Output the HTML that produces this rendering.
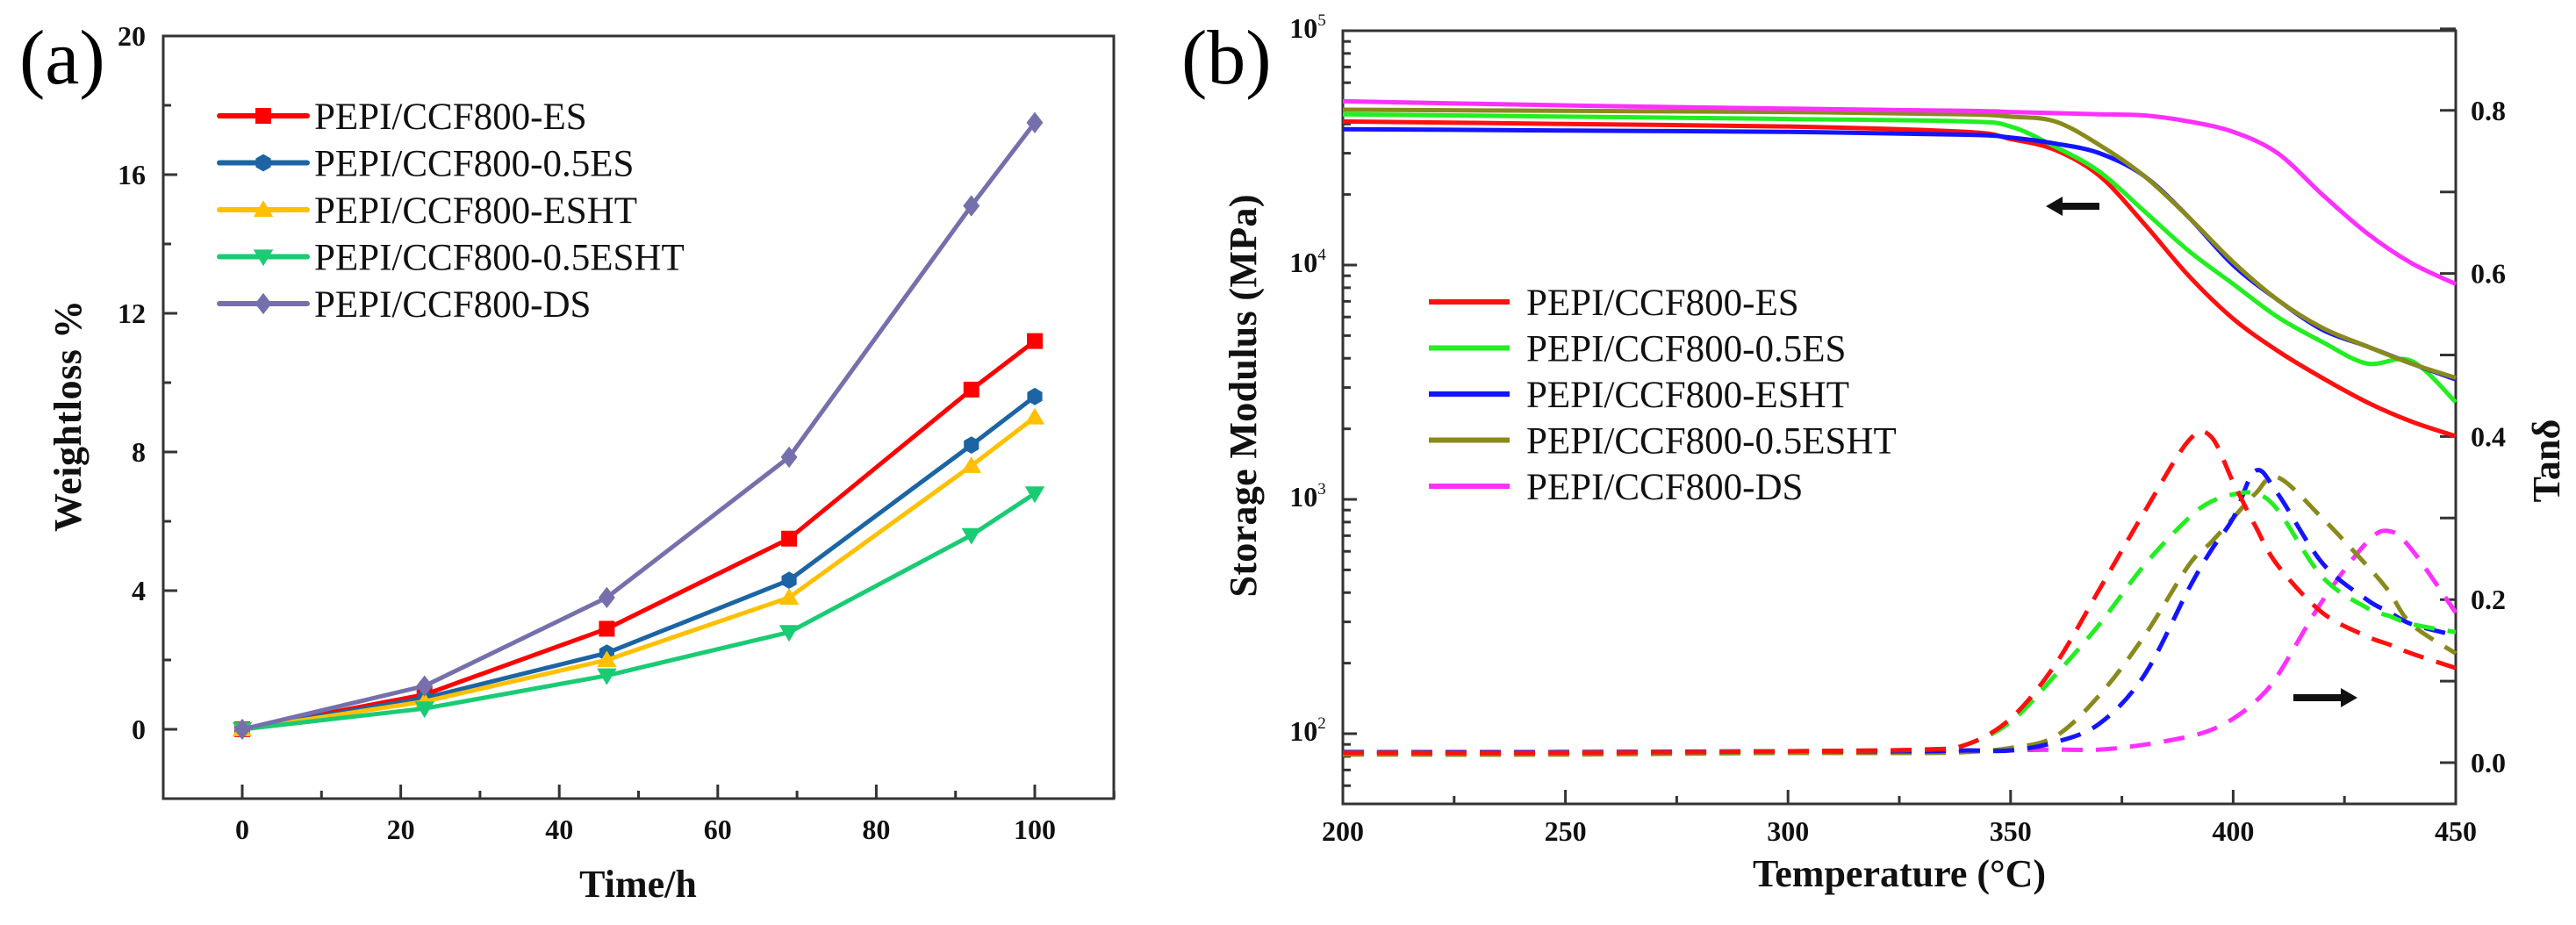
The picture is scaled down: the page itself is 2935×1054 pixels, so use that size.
<!DOCTYPE html>
<html><head><meta charset="utf-8"><style>
html,body{margin:0;padding:0;background:#fff;}
svg{display:block;}
svg text{font-family:"Liberation Serif","Times New Roman",serif;}
.tk{font-weight:bold;font-size:32px;fill:#111;}
.at{font-weight:bold;font-size:44px;fill:#111;}
.lg{font-size:43px;fill:#111;}
</style></head><body>
<svg id="svg" width="2935" height="1054" viewBox="0 0 2935 1054" xmlns="http://www.w3.org/2000/svg">
<g id="ga"></g>
<g id="gb"></g>
</svg>
<script>
// ---------- Chart (a) data ----------
const timeH = [0, 23, 46, 69, 92, 100];
const seriesNamesA = ["PEPI/CCF800-ES","PEPI/CCF800-0.5ES","PEPI/CCF800-ESHT","PEPI/CCF800-0.5ESHT","PEPI/CCF800-DS"];
const lossES = [0, 1.0, 2.9, 5.5, 9.8, 11.2];
const loss05ES = [0, 0.9, 2.2, 4.3, 8.2, 9.6];
const lossESHT = [0, 0.8, 2.0, 3.8, 7.6, 9.0];
const loss05ESHT = [0, 0.6, 1.55, 2.8, 5.6, 6.8];
const lossDS = [0, 1.25, 3.8, 7.85, 15.1, 17.5];
const xTicksA = [0, 20, 40, 60, 80, 100];
const yTicksA = [0, 4, 8, 12, 16, 20];

// ---------- Chart (b) data ----------
const tempMod = [200,250,300,340,350,360,370,380,390,400,410,420,430,440,450];
const modES = [41000,40000,39000,37000,34500,31000,24000,15000,9000,5900,4300,3300,2600,2150,1860];
const mod05ES = [44000,43000,42000,41000,39000,32000,25000,17000,11500,8300,6000,4700,3800,3900,2600];
const modESHT = [38000,37500,37000,36000,35000,33000,30000,24000,16000,10000,7100,5300,4500,3800,3250];
const mod05ESHT = [46000,45500,45000,44000,43000,41000,32500,24000,16000,10300,7100,5400,4500,3800,3300];
const modDS = [50000,48000,46500,45500,45000,44500,44000,43500,41000,37000,30000,20000,13700,10200,8300];
const tempTan = [200,250,300,330,340,350,360,370,380,390,395,400,405,410,420,430,435,440,450];
const tanES = [.012,.012,.014,.016,.022,.054,.12,.213,.307,.395,.40,.344,.29,.242,.184,.155,.145,.134,.116];
const tan05ES = [.012,.012,.014,.016,.022,.05,.107,.17,.242,.30,.32,.329,.33,.31,.228,.19,.18,.17,.16];
const tanESHT = [.013,.013,.014,.014,.015,.015,.025,.048,.107,.213,.26,.30,.358,.33,.245,.2,.185,.17,.156];
const tan05ESHT = [.010,.010,.012,.012,.013,.018,.032,.083,.155,.242,.27,.30,.33,.35,.30,.242,.21,.17,.134];
const tanDS = [.012,.012,.012,.012,.014,.015,.016,.016,.022,.032,.04,.054,.075,.107,.198,.27,.284,.262,.184];
const xTicksB = [200,250,300,350,400,450];
const yExpB = [2,3,4,5];
const tanTicks = [0.0,0.2,0.4,0.6,0.8];

const NS="http://www.w3.org/2000/svg";
function mk(parent,tag,attrs,text){const e=document.createElementNS(NS,tag);for(const k in attrs)e.setAttribute(k,attrs[k]);if(text!==undefined)e.textContent=text;parent.appendChild(e);return e;}

// ===== Chart (a) =====
const ga=document.getElementById('ga');
const xA=v=>276+(v)*9.03;
const yA=v=>831-v*39.5;
let e;
e=mk(ga,'text',{x:22,y:95,'font-size':88},'(a)');


e=mk(ga,'rect',{x:186,y:41,width:1083,height:869,fill:'none',stroke:'#333','stroke-width':3});


for(let v=-2;v<=20;v+=2){const maj=v%4===0;mk(ga,'line',{x1:186,x2:186+(maj?16:9),y1:yA(v),y2:yA(v),stroke:'#333','stroke-width':3});}
yTicksA.forEach(v=>{e=mk(ga,'text',{x:166,y:yA(v)+11,'text-anchor':'end',class:'tk'},String(v));

});
for(let v=0;v<=110;v+=10){const maj=v%20===0;mk(ga,'line',{x1:xA(v),x2:xA(v),y1:910,y2:910-(maj?16:9),stroke:'#333','stroke-width':3});}
xTicksA.forEach(v=>{e=mk(ga,'text',{x:xA(v),y:956,'text-anchor':'middle',class:'tk'},String(v));

});
e=mk(ga,'text',{x:727,y:1022,'text-anchor':'middle',class:'at'},'Time/h');


e=mk(ga,'text',{x:0,y:0,'text-anchor':'middle',class:'at',transform:'translate(92,474) rotate(-90)',textLength:264},'Weightloss %');



const colorsA=['#ff0000','#1c64a4','#ffc000','#19cc74','#7570ac'];
const dataA=[lossES,loss05ES,lossESHT,loss05ESHT,lossDS];
const shapes=['square','hex','up','down','diamond'];
function marker(p,shape,cx,cy,col,s){
  let m;
  if(shape==='square') m=mk(p,'rect',{x:cx-s,y:cy-s,width:2*s,height:2*s,fill:col});
  else if(shape==='hex'){const pts=[];for(let i=0;i<6;i++){const a=Math.PI/6+i*Math.PI/3;pts.push((cx+s*1.1*Math.cos(a))+','+(cy+s*1.1*Math.sin(a)));}m=mk(p,'polygon',{points:pts.join(' '),fill:col});}
  else if(shape==='up') m=mk(p,'polygon',{points:`${cx},${cy-s*1.2} ${cx+s*1.25},${cy+s*0.9} ${cx-s*1.25},${cy+s*0.9}`,fill:col});
  else if(shape==='down') m=mk(p,'polygon',{points:`${cx},${cy+s*1.2} ${cx+s*1.25},${cy-s*0.9} ${cx-s*1.25},${cy-s*0.9}`,fill:col});
  else m=mk(p,'polygon',{points:`${cx},${cy-s*1.35} ${cx+s*1.05},${cy} ${cx},${cy+s*1.35} ${cx-s*1.05},${cy}`,fill:col});
  return m;
}
dataA.forEach((arr,i)=>{
  const g=mk(ga,'g',{});
  
  
  const d=arr.map((v,j)=>(j?'L':'M')+xA(timeH[j])+','+yA(v)).join(' ');
  mk(g,'path',{d:d,fill:'none',stroke:colorsA[i],'stroke-width':5,'stroke-linejoin':'round'});
  arr.forEach((v,j)=>{const m=marker(g,shapes[i],xA(timeH[j]),yA(v),colorsA[i],9);
    
    });
  const ly=132+i*53.5;
  const lg=mk(ga,'g',{});
  
  
  mk(lg,'line',{x1:250,x2:350,y1:ly,y2:ly,stroke:colorsA[i],'stroke-width':6,'stroke-linecap':'round'});
  marker(lg,shapes[i],300,ly,colorsA[i],9);
  mk(lg,'text',{x:358,y:ly+15,class:'lg'},seriesNamesA[i]);
});

// ===== Chart (b) =====
const gb=document.getElementById('gb');
const xB=t=>1530+(t-200)*5.072;
const yLog=v=>35+(5-Math.log10(v))*267;
const yTan=v=>869-v*929;
e=mk(gb,'text',{x:1346,y:95,'font-size':88},'(b)');


e=mk(gb,'rect',{x:1530,y:35,width:1268,height:881,fill:'none',stroke:'#333','stroke-width':3});


for(let d=1;d<=4;d++){for(let k=1;k<=9;k++){const v=k*Math.pow(10,d);const y=yLog(v);if(y>916||y<35)continue;
  mk(gb,'line',{x1:1530,x2:1530+(k===1?16:9),y1:y,y2:y,stroke:'#333','stroke-width':3});}}
yExpB.forEach(p=>{const y=yLog(Math.pow(10,p));
  e=mk(gb,'text',{x:1490,y:y+8,'text-anchor':'middle',class:'tk','font-size':30});
  
  
  e.appendChild(document.createTextNode('10'));
  mk(e,'tspan',{dy:-14,'font-size':19,'font-weight':'normal'},String(p));});
for(let v=0;v<=0.9001;v+=0.1){mk(gb,'line',{x1:2798,x2:2780,y1:yTan(v),y2:yTan(v),stroke:'#333','stroke-width':3});}
tanTicks.forEach(v=>{e=mk(gb,'text',{x:2815,y:yTan(v)+11,class:'tk'},v.toFixed(1));
  
  });
for(let t=200;t<=450;t+=25){mk(gb,'line',{x1:xB(t),x2:xB(t),y1:916,y2:916-(t%50===0?16:9),stroke:'#333','stroke-width':3});}
xTicksB.forEach(t=>{e=mk(gb,'text',{x:xB(t),y:958,'text-anchor':'middle',class:'tk'},String(t));
  
  });
e=mk(gb,'text',{x:2164,y:1010,'text-anchor':'middle',class:'at'},'Temperature (\u00b0C)');


e=mk(gb,'text',{x:0,y:0,'text-anchor':'middle',class:'at',transform:'translate(1431,451) rotate(-90)',textLength:459},'Storage Modulus (MPa)');


e=mk(gb,'text',{x:0,y:0,'text-anchor':'middle',class:'at',transform:'translate(2916,525) rotate(-90)'},'Tan\u03b4');



const colorsB=['#ff1010','#22ee22','#1414ff','#8a8a1c','#ff30ff'];
const modData=[modES,mod05ES,modESHT,mod05ESHT,modDS];
const tanData=[tanES,tan05ES,tanESHT,tan05ESHT,tanDS];
function smooth(pts){let d='M'+pts[0][0]+','+pts[0][1];for(let i=0;i<pts.length-1;i++){const p0=pts[i-1]||pts[i],p1=pts[i],p2=pts[i+1],p3=pts[i+2]||p2;
  const c1=[p1[0]+(p2[0]-p0[0])/6,p1[1]+(p2[1]-p0[1])/6],c2=[p2[0]-(p3[0]-p1[0])/6,p2[1]-(p3[1]-p1[1])/6];
  d+=' C'+c1+' '+c2+' '+p2;}return d;}
[4,3,2,1,0].forEach(i=>{
  e=mk(gb,'path',{d:smooth(tanData[i].map((v,j)=>[xB(tempTan[j]),yTan(v)])),fill:'none',stroke:colorsB[i],'stroke-width':5,'stroke-dasharray':'24 15'});
  
  
});
[0,1,2,3,4].forEach(i=>{
  e=mk(gb,'path',{d:smooth(modData[i].map((v,j)=>[xB(tempMod[j]),yLog(v)])),fill:'none',stroke:colorsB[i],'stroke-width':5});
  
  
});
seriesNamesA.forEach((n,i)=>{const ly=344+i*52.5;
  const lg=mk(gb,'g',{});
  
  
  mk(lg,'line',{x1:1628,x2:1720,y1:ly,y2:ly,stroke:colorsB[i],'stroke-width':6});
  mk(lg,'text',{x:1739,y:ly+15,class:'lg','font-size':45},n);});
e=mk(gb,'path',{d:'M2331,235 L2350,224 L2350,231 L2392,231 L2392,239 L2350,239 L2350,246 Z',fill:'#111'});


e=mk(gb,'path',{d:'M2686,795 L2667,784 L2667,791 L2613,791 L2613,799 L2667,799 L2667,806 Z',fill:'#111'});


</script>
</body></html>
